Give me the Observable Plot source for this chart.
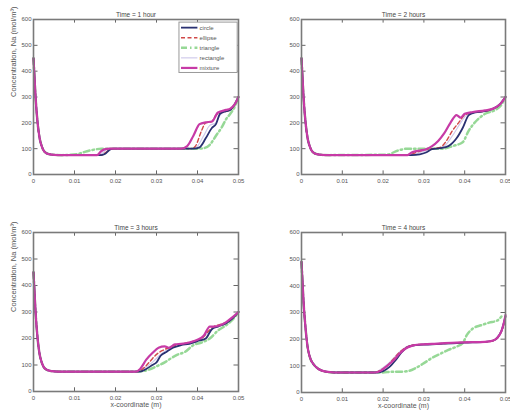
<!DOCTYPE html>
<html><head><meta charset="utf-8">
<script src="https://cdn.jsdelivr.net/npm/d3@7"></script>
<script src="https://cdn.jsdelivr.net/npm/@observablehq/plot@0.6"></script>
<style>
body{margin:0;background:#fff;}
#wrap{position:relative;width:510px;height:411px;overflow:hidden;background:#fff;}
.pan{position:absolute;}
</style></head><body>
<div id="wrap"></div>
<script>
// ---------- data ----------
const seriesNames = ["circle","ellipse","triangle","rectangle","mixture"];
const titles = ["Time = 1 hour","Time = 2 hours","Time = 3 hours","Time = 4 hours"];
const xTicks = [0,0.01,0.02,0.03,0.04,0.05];
const yTicks = [0,100,200,300,400,500,600];

const wallDecayA = [[0,450],[0.0005,300],[0.001,200],[0.0015,140],[0.002,110],[0.0025,92],[0.003,84],[0.004,78],[0.005,76]];
const wallDecayB = [[0,490],[0.0005,340],[0.001,240],[0.0015,170],[0.002,135],[0.003,105],[0.004,90],[0.005,82],[0.006,78]];

// Time = 1 hour
const p1_circle   = [[0.007,75],[0.0165,75],[0.0175,80],[0.0185,95],[0.0195,100],[0.039,100],[0.0405,105],[0.042,140],[0.0435,180],[0.0445,195],[0.0455,235],[0.047,245],[0.048,250],[0.049,270],[0.05,300]];
const p1_ellipse  = [[0.007,75],[0.0165,75],[0.018,90],[0.019,100],[0.0385,100],[0.0395,110],[0.041,170],[0.042,200],[0.0435,205],[0.0445,230],[0.046,240],[0.048,250],[0.049,270],[0.05,300]];
const p1_triangle = [[0.007,75],[0.0105,78],[0.012,85],[0.0135,92],[0.015,97],[0.0165,100],[0.040,100],[0.0415,102],[0.043,115],[0.0445,150],[0.046,185],[0.047,215],[0.048,235],[0.049,260],[0.05,300]];
const p1_rectangle= [[0.007,75],[0.016,75],[0.017,85],[0.018,98],[0.019,100],[0.039,100],[0.040,110],[0.0415,150],[0.043,190],[0.0445,200],[0.0455,230],[0.047,245],[0.049,265],[0.05,300]];
const p1_mixture  = [[0.007,75],[0.0155,75],[0.0165,90],[0.0175,98],[0.0185,100],[0.036,100],[0.0375,110],[0.039,150],[0.0405,195],[0.042,202],[0.0435,205],[0.045,240],[0.047,250],[0.048,255],[0.049,270],[0.05,300]];

// Time = 2 hours
const p2_circle   = [[0.007,75],[0.027,75],[0.029,78],[0.0305,85],[0.032,98],[0.034,102],[0.036,110],[0.038,140],[0.0395,180],[0.041,230],[0.0425,240],[0.045,245],[0.047,255],[0.0485,270],[0.05,300]];
const p2_ellipse  = [[0.007,75],[0.026,75],[0.028,85],[0.030,95],[0.032,100],[0.034,105],[0.0355,130],[0.037,170],[0.0385,200],[0.040,230],[0.042,240],[0.045,245],[0.047,255],[0.0485,270],[0.05,300]];
const p2_triangle = [[0.007,75],[0.021,77],[0.0235,92],[0.026,100],[0.030,100],[0.0345,100],[0.037,110],[0.0395,125],[0.041,170],[0.043,210],[0.045,235],[0.0475,250],[0.049,270],[0.05,300]];
const p2_rectangle= [[0.007,75],[0.027,75],[0.029,85],[0.031,95],[0.033,100],[0.035,110],[0.037,150],[0.039,200],[0.0405,230],[0.043,240],[0.046,250],[0.048,265],[0.05,300]];
const p2_mixture  = [[0.007,75],[0.026,75],[0.027,85],[0.029,93],[0.0305,98],[0.032,110],[0.0335,130],[0.035,160],[0.0365,200],[0.038,230],[0.039,220],[0.040,235],[0.042,242],[0.045,248],[0.047,255],[0.0485,270],[0.05,300]];

// Time = 3 hours
const p3_circle   = [[0.007,75],[0.026,75],[0.0275,85],[0.029,100],[0.030,110],[0.031,135],[0.0325,150],[0.034,165],[0.036,175],[0.038,180],[0.040,190],[0.042,200],[0.0435,235],[0.045,245],[0.047,258],[0.0485,275],[0.05,300]];
const p3_ellipse  = [[0.007,75],[0.0255,75],[0.027,90],[0.0285,115],[0.030,140],[0.0315,155],[0.033,165],[0.035,175],[0.037,182],[0.039,190],[0.041,200],[0.0425,225],[0.044,245],[0.046,255],[0.048,270],[0.05,300]];
const p3_triangle = [[0.007,75],[0.026,76],[0.028,82],[0.030,95],[0.032,110],[0.0335,125],[0.035,138],[0.037,150],[0.039,175],[0.041,185],[0.043,200],[0.045,230],[0.047,250],[0.0485,270],[0.05,300]];
const p3_rectangle= [[0.007,75],[0.0255,75],[0.027,88],[0.029,110],[0.031,140],[0.033,160],[0.035,172],[0.037,180],[0.039,188],[0.041,198],[0.043,230],[0.045,248],[0.047,260],[0.05,300]];
const p3_mixture  = [[0.007,75],[0.025,75],[0.026,85],[0.0275,120],[0.029,145],[0.0305,165],[0.032,170],[0.033,165],[0.0345,178],[0.036,180],[0.038,185],[0.040,195],[0.0415,210],[0.043,245],[0.044,245],[0.0455,250],[0.047,262],[0.0485,280],[0.05,300]];

// Time = 4 hours
const p4_circle   = [[0.008,75],[0.0185,75],[0.020,80],[0.0215,95],[0.023,120],[0.0245,150],[0.026,170],[0.028,178],[0.031,180],[0.035,183],[0.040,187],[0.045,190],[0.047,195],[0.048,205],[0.049,230],[0.05,285]];
const p4_ellipse  = [[0.008,75],[0.018,75],[0.0195,85],[0.021,100],[0.0225,125],[0.024,150],[0.0255,168],[0.027,177],[0.030,181],[0.035,184],[0.040,188],[0.046,191],[0.0475,198],[0.0485,215],[0.0495,250],[0.05,280]];
const p4_triangle = [[0.008,75],[0.020,75],[0.022,78],[0.024,78],[0.026,80],[0.028,92],[0.030,110],[0.032,130],[0.034,145],[0.036,160],[0.038,172],[0.0395,185],[0.0405,215],[0.042,240],[0.044,252],[0.046,262],[0.048,270],[0.049,285]];
const p4_rectangle= [[0.008,75],[0.018,75],[0.0195,88],[0.021,105],[0.0225,128],[0.024,152],[0.0255,170],[0.027,178],[0.030,182],[0.035,185],[0.040,188],[0.045,190],[0.047,196],[0.048,210],[0.049,235],[0.05,295]];
const p4_mixture  = [[0.008,75],[0.018,75],[0.0195,82],[0.021,100],[0.0225,120],[0.024,145],[0.0255,165],[0.027,175],[0.029,180],[0.032,182],[0.035,185],[0.040,188],[0.045,190],[0.047,195],[0.048,205],[0.049,230],[0.0495,255],[0.05,290]];

// ---------- styles ----------
const styles = {
  circle:   {stroke:"#2a3172", strokeWidth:1.8},
  ellipse:  {stroke:"#d04848", strokeWidth:1.4, strokeDasharray:"4,2.5"},
  triangle: {stroke:"#96d896", strokeWidth:2.5, strokeDasharray:"6,3,1.5,3"},
  rectangle:{stroke:"#cdc6ea", strokeWidth:1.1},
  mixture:  {stroke:"#c73aa6", strokeWidth:2.2}
};
const drawOrder = ["rectangle","triangle","ellipse","circle","mixture"];

const panels = [
  {decay:wallDecayA, s:{circle:p1_circle,ellipse:p1_ellipse,triangle:p1_triangle,rectangle:p1_rectangle,mixture:p1_mixture}},
  {decay:wallDecayA, s:{circle:p2_circle,ellipse:p2_ellipse,triangle:p2_triangle,rectangle:p2_rectangle,mixture:p2_mixture}},
  {decay:wallDecayA, s:{circle:p3_circle,ellipse:p3_ellipse,triangle:p3_triangle,rectangle:p3_rectangle,mixture:p3_mixture}},
  {decay:wallDecayB, s:{circle:p4_circle,ellipse:p4_ellipse,triangle:p4_triangle,rectangle:p4_rectangle,mixture:p4_mixture}}
];

const layout = [
  {left:0,   top:0,   w:255, h:200, ml:33, mr:17, mt:19, mb:26},
  {left:255, top:0,   w:255, h:200, ml:46, mr:5,  mt:19, mb:26},
  {left:0,   top:200, w:255, h:211, ml:33, mr:17, mt:32, mb:20},
  {left:255, top:200, w:255, h:211, ml:46, mr:5,  mt:32, mb:19}
];

const fmtX = d => d === 0 ? "0" : d.toFixed(2);
const wrap = document.getElementById("wrap");

panels.forEach((p, i) => {
  const L = layout[i];
  const showY = i % 2 === 0;
  const showX = i >= 2;
  const marks = [
    Plot.ruleX(xTicks, {y1:0, y2:14, stroke:"#666", strokeWidth:1}),
    Plot.ruleX(xTicks, {y1:586, y2:600, stroke:"#666", strokeWidth:1}),
    Plot.ruleY(yTicks, {x1:0, x2:0.0011, stroke:"#666", strokeWidth:1}),
    Plot.ruleY(yTicks, {x1:0.0489, x2:0.05, stroke:"#666", strokeWidth:1})
  ];
  drawOrder.forEach(name => {
    const pts = p.decay.concat(p.s[name]);
    marks.push(Plot.line(pts, {x:d=>d[0], y:d=>d[1], curve:"monotone-x", ...styles[name]}));
  });
  marks.push(Plot.frame({stroke:"#7a7a7a", strokeWidth:1.6}));
  marks.push(Plot.axisX(xTicks, {tickSize:0, tickPadding:4, tickFormat:fmtX, fontSize:6, fill:"#555", label:null}));
  marks.push(Plot.axisY(yTicks, {tickSize:0, tickPadding:2, fontSize:6, fill:"#555", label:null}));
  if (showX) marks.push(Plot.text(["x-coordinate (m)"], {frameAnchor:"bottom", dy:15, fontSize:7, fill:"#555"}));
  if (showY) marks.push(Plot.text(["Concentration, Na (mol/m³)"], {frameAnchor:"left", dx:-20, rotate:-90, fontSize:7.5, fill:"#555"}));
  marks.push(Plot.text([titles[i]], {frameAnchor:"top", dy:-7, fontSize:6.5, fill:"#444"}));

  if (i === 0) {
    // legend box inside the first panel
    const xL = 0.0356, xR = 0.0498, yT = 588, yB = 393;
    const step = (yT - yB) / 5;
    marks.push(Plot.rect([0], {x1:xL, x2:xR, y1:yB, y2:yT, fill:"white", stroke:"#999", strokeWidth:1}));
    seriesNames.forEach((name, k) => {
      const ly = yT - step * (k + 0.5);
      marks.push(Plot.ruleY([ly], {x1:0.0361, x2:0.0401, ...styles[name]}));
      marks.push(Plot.text([name], {x:0.0405, y:ly, textAnchor:"start", fontSize:6, fill:"#555"}));
    });
  }

  const chart = Plot.plot({
    width:L.w, height:L.h,
    marginLeft:L.ml, marginRight:L.mr, marginTop:L.mt, marginBottom:L.mb,
    x:{domain:[0,0.05]}, y:{domain:[0,600]},
    style:{fontFamily:"Liberation Sans, Arial, sans-serif", fontSize:"6px", color:"#555", background:"transparent"},
    marks
  });
  const div = document.createElement("div");
  div.className = "pan";
  div.style.left = L.left + "px";
  div.style.top = L.top + "px";
  div.appendChild(chart);
  wrap.appendChild(div);
});
</script>
</body></html>
